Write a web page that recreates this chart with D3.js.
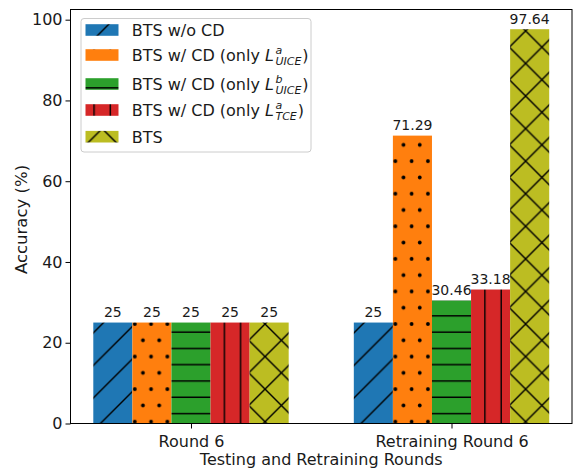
<!DOCTYPE html>
<html><head><meta charset="utf-8">
<script src="https://cdn.jsdelivr.net/npm/d3@7"></script>
<style>
body{margin:0;background:#fff}
svg{display:block}
text{font-family:"DejaVu Sans",sans-serif;fill:#1a1a1a}
</style>
</head><body><svg id="chart" width="574" height="468"></svg>
<script>
// ---- data ----
const categories = ["Round 6", "Retraining Round 6"];
const seriesNames = [
  "BTS w/o CD",
  "BTS w/ CD (only $L^{a}_{UICE}$)",
  "BTS w/ CD (only $L^{b}_{UICE}$)",
  "BTS w/ CD (only $L^{a}_{TCE}$)",
  "BTS"
];
const btsWoCD   = [25, 25];
const onlyUiceA = [25, 71.29];
const onlyUiceB = [25, 30.46];
const onlyTceA  = [25, 33.18];
const btsFull   = [25, 97.64];
const yTicks = [0, 20, 40, 60, 80, 100];
const xLabel = "Testing and Retraining Rounds";
const yLabel = "Accuracy (%)";

const seriesValues = [btsWoCD, onlyUiceA, onlyUiceB, onlyTceA, btsFull];
const colors = ["#1f77b4", "#ff7f0e", "#2ca02c", "#d62728", "#bcbd22"];
const hatches = ["/", ".", "-", "|", "x"];

(function () {
// ---- layout ----
const svg = d3.select("#chart");
const pL = 70.5, pR = 572, pT = 9.5, pB = 423.5;
const barW = 0.15;
const x = d3.scaleLinear().domain([-0.4625, 1.4625]).range([pL, pR]);
const y = d3.scaleLinear().domain([0, 102.522]).range([pB, pT]);

// ---- hatch patterns ----
const defs = svg.append("defs");
const P = 32.57, ox = 4.5, oy = 324;
hatches.forEach((h, i) => {
  const p = defs.append("pattern").attr("id", "hatch" + i)
    .attr("patternUnits", "userSpaceOnUse")
    .attr("x", ox).attr("y", oy).attr("width", P).attr("height", P);
  p.append("rect").attr("width", P).attr("height", P).attr("fill", colors[i]);
  const g = p.append("g").attr("stroke", "#000").attr("stroke-width", 1.4).attr("fill", "none");
  if (h === "/" || h === "x") {
    g.append("path").attr("d", `M${-P/2},${P/2}L${P/2},${-P/2}M0,${P}L${P},0M${P/2},${1.5*P}L${1.5*P},${P/2}`);
  }
  if (h === "x") {
    g.append("path").attr("d", `M${-P/2},${P/2}L${P/2},${1.5*P}M0,0L${P},${P}M${P/2},${-P/2}L${1.5*P},${P/2}`);
  }
  if (h === "-") {
    g.append("path").attr("d", `M0,${P/4}H${P}M0,${3*P/4}H${P}`);
  }
  if (h === "|") {
    g.append("path").attr("d", `M${P/4},0V${P}M${3*P/4},0V${P}`);
  }
  if (h === ".") {
    const pts = [[0,0],[P/2,0],[P,0],[0,P],[P/2,P],[P,P],[P/4,P/2],[3*P/4,P/2]];
    pts.forEach(([cx, cy]) => p.append("circle").attr("cx", cx).attr("cy", cy).attr("r", 1.9).attr("fill", "#000"));
  }
});

// ---- bars ----
const bw = x(barW) - x(0);
seriesValues.forEach((vals, i) => {
  const g = svg.append("g");
  vals.forEach((v, j) => {
    const cx = j + (i - 2) * barW;
    g.append("rect")
      .attr("x", x(cx - barW / 2)).attr("width", bw)
      .attr("y", y(v)).attr("height", y(0) - y(v))
      .attr("fill", `url(#hatch${i})`);
    g.append("text")
      .attr("x", x(cx)).attr("y", y(v) - 5.5)
      .attr("text-anchor", "middle").attr("font-size", 14)
      .text(String(v));
  });
});

// ---- axes ----
const yAxis = svg.append("g").attr("transform", `translate(${pL},0)`)
  .call(d3.axisLeft(y).tickValues(yTicks).tickSize(5).tickPadding(3).tickFormat(d3.format("d")));
const xAxis = svg.append("g").attr("transform", `translate(0,${pB})`)
  .call(d3.axisBottom(x).tickValues(categories.map((c, i) => i)).tickSize(5).tickPadding(7)
    .tickFormat(i => categories[i]));
[yAxis, xAxis].forEach(a => {
  a.select(".domain").remove();
  a.selectAll("text").attr("font-size", 16).attr("font-family", "DejaVu Sans").attr("fill", "#1a1a1a");
  a.selectAll("line").attr("stroke", "#000").attr("stroke-width", 1);
});

svg.append("rect").attr("x", pL).attr("y", pT)
  .attr("width", pR - pL).attr("height", pB - pT)
  .attr("fill", "none").attr("stroke", "#000").attr("stroke-width", 1);

svg.append("text").attr("x", (pL + pR) / 2).attr("y", 465)
  .attr("text-anchor", "middle").attr("font-size", 16).text(xLabel);
svg.append("text").attr("transform", `translate(27,${(pT + pB) / 2 + 3}) rotate(-90)`)
  .attr("text-anchor", "middle").attr("font-size", 16.5).text(yLabel);

// ---- legend ----
const lg = svg.append("g");
lg.append("rect").attr("x", 81).attr("y", 18.5).attr("width", 230).attr("height", 133.5)
  .attr("rx", 3).attr("fill", "#fff").attr("fill-opacity", 0.8)
  .attr("stroke", "#ccc").attr("stroke-width", 1);
const rowCenters = [30, 55, 84, 110, 136.7];
seriesNames.forEach((name, i) => {
  const cy = rowCenters[i];
  lg.append("rect").attr("x", 85.5).attr("y", cy - 5.8).attr("width", 33).attr("height", 11.6)
    .attr("fill", `url(#hatch${i})`);
  const tx = 131.7, base = cy + 5.8;
  const m = name.match(/^(.*)\$L\^\{(.*?)\}_\{(.*?)\}\$(.*)$/);
  if (!m) {
    lg.append("text").attr("x", tx).attr("y", base).attr("font-size", 16).text(name);
    return;
  }
  const t = lg.append("text").attr("x", tx).attr("y", base).attr("font-size", 16)
    .attr("xml:space", "preserve");
  t.append("tspan").text(m[1]);
  t.append("tspan").attr("font-style", "italic").text("L");
  const lEnd = tx + t.node().getComputedTextLength() + 1.5;
  const sup = lg.append("text").attr("x", lEnd).attr("y", base - 7)
    .attr("font-size", 11).attr("font-style", "italic").text(m[2]);
  const sub = lg.append("text").attr("x", lEnd).attr("y", base + 3.8)
    .attr("font-size", 11).attr("font-style", "italic").text(m[3]);
  const sEnd = lEnd + Math.max(sup.node().getComputedTextLength(), sub.node().getComputedTextLength()) + 1;
  lg.append("text").attr("x", sEnd).attr("y", base).attr("font-size", 16).text(m[4]);
});
})();
</script>
</body></html>
